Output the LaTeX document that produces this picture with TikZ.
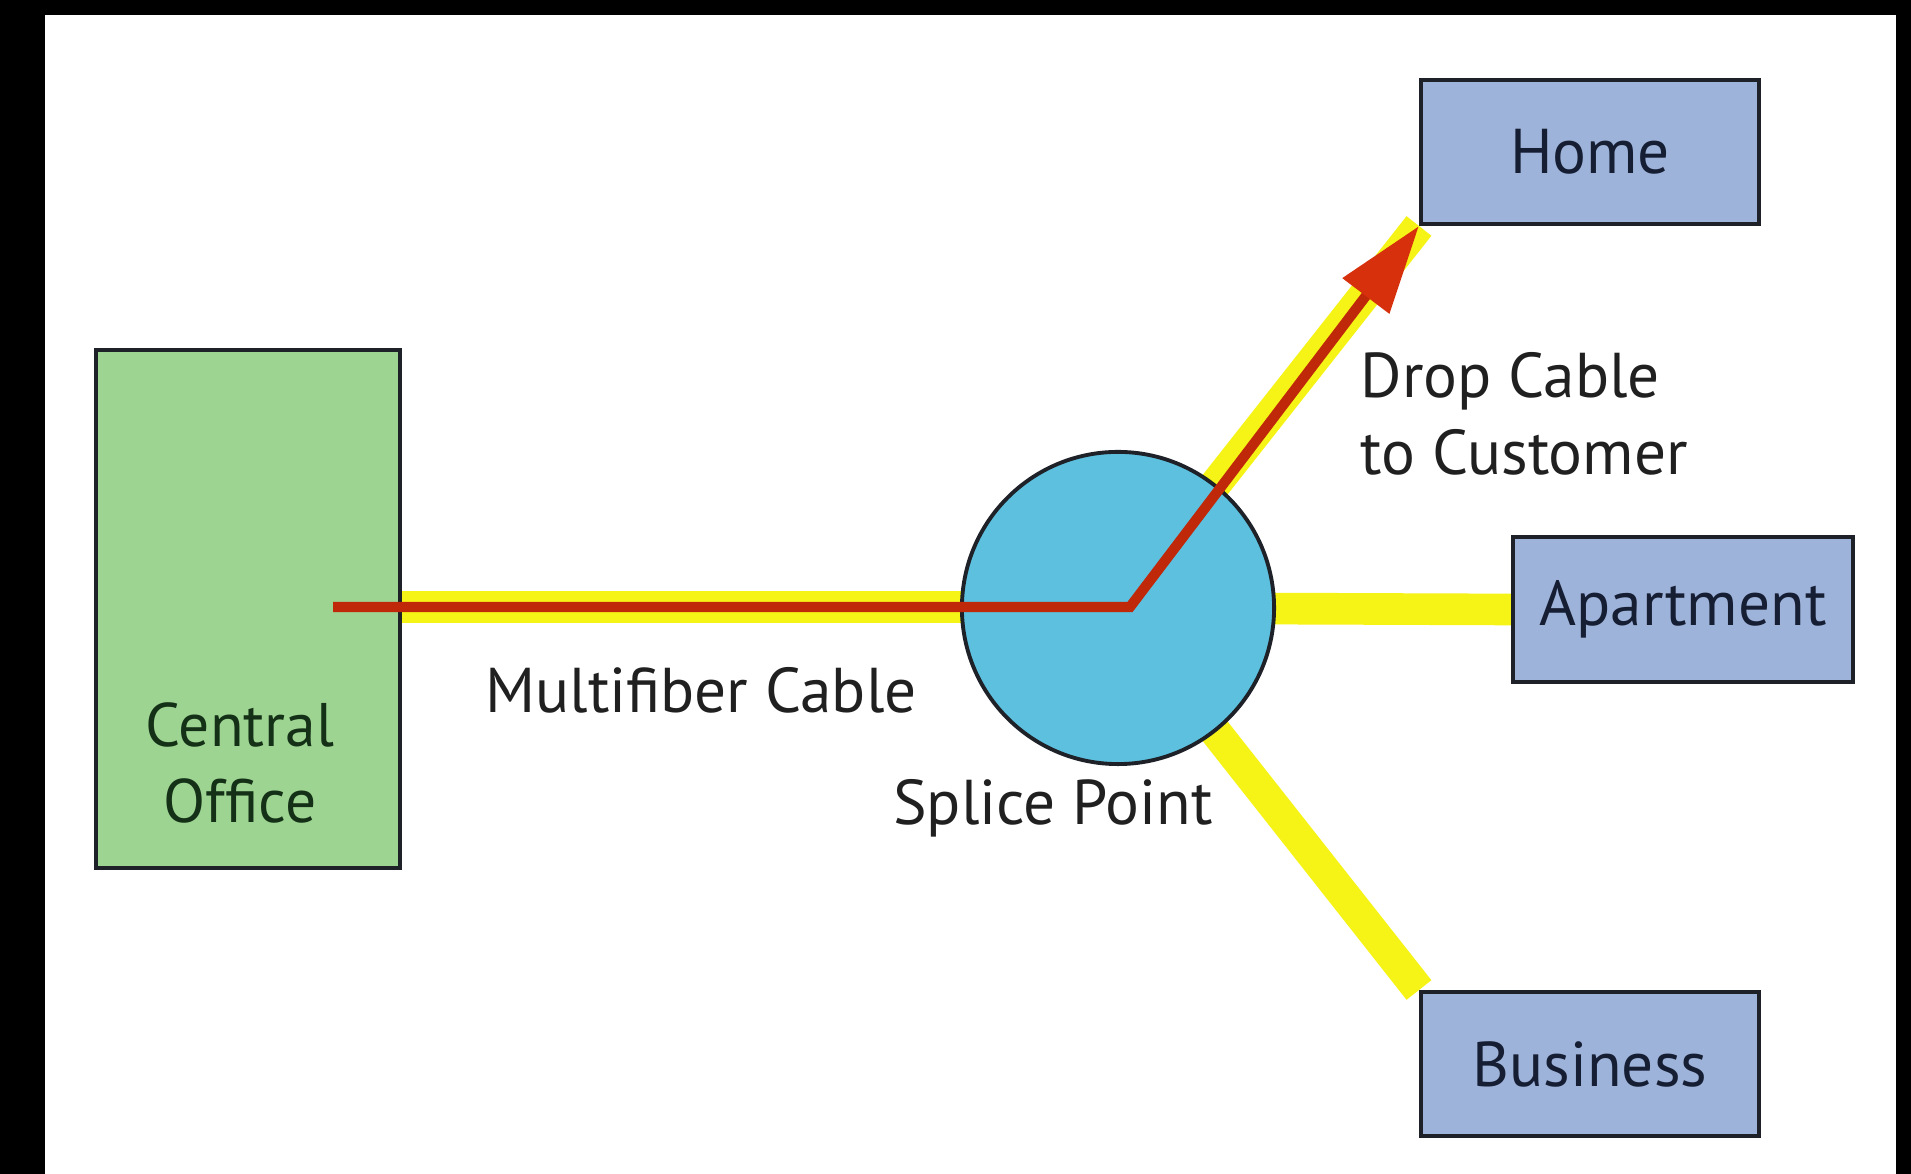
\documentclass[tikz,border=0pt]{standalone}
\usepackage{fontspec}
\setmainfont{PT Sans}
\usetikzlibrary{arrows.meta}
\definecolor{cogreen}{RGB}{157,212,146}
\definecolor{custblue}{RGB}{158,179,217}
\definecolor{splicecyan}{RGB}{92,192,222}
\definecolor{cableyellow}{RGB}{246,244,22}
\definecolor{fibrered}{RGB}{192,40,10}
\definecolor{tipred}{RGB}{214,48,12}
\definecolor{edgedark}{RGB}{30,34,40}
\definecolor{navytext}{RGB}{22,30,52}
\definecolor{greentext}{RGB}{20,48,22}
\definecolor{labeltext}{RGB}{32,32,32}
\pgfdeclarelayer{framelayer}
\pgfdeclarelayer{cablelayer}
\pgfsetlayers{framelayer,cablelayer,main}
\begin{document}
\begin{tikzpicture}[x=0.01cm,y=-0.01cm,
  boxbase/.style={draw=edgedark, line width=1.1pt, rectangle, inner sep=0pt},
  cobox/.style={boxbase, fill=cogreen, minimum width=3.04cm, minimum height=5.18cm},
  custbox/.style={boxbase, fill=custblue, minimum width=3.38cm, minimum height=1.44cm,
     font=\fontsize{18}{21}\selectfont, text=navytext},
  splicenode/.style={circle, draw=edgedark, line width=1.1pt, fill=splicecyan, minimum size=3.12cm, inner sep=0pt},
  labeltxt/.style={font=\fontsize{18}{22}\selectfont, text=labeltext, inner sep=0pt},
  yel/.style={draw=cableyellow, line width=9pt},
  fibre/.style={draw=fibrered, line width=2.9pt, line join=miter}
]
\useasboundingbox (0,0) rectangle (1911,1174);
\begin{pgfonlayer}{framelayer}
\fill[black] (0,0) rectangle (1911,1174);
\fill[white] (45,15) rectangle (1896,1174);
\end{pgfonlayer}

% nodes
\node[cobox] (co) at (248,609) {};
\node[custbox] (home) at (1590,152) {Home};
\node[custbox, minimum width=3.40cm, minimum height=1.45cm] (apt) at (1683,609.5) {Apartment};
\node[custbox] (bus) at (1590,1064) {Business};

\coordinate (costart) at (333,607);
\coordinate (bend) at (1130,607);
\node[splicenode] (sp) at (1118,608) {};

% yellow cables (behind boxes and splice)
\begin{pgfonlayer}{cablelayer}
\draw[yel] (costart -| co.east) -- (bend);
\draw[yel] (sp.center) -- (home.south west);
\draw[yel] (sp.center) -- (apt.west);
\draw[yel] (sp.center) -- (bus.north west);
\end{pgfonlayer}

% red fibre with arrow
\draw[fibre, -{Triangle[length=25pt,width=16pt,color=tipred]}] (costart) -- (bend) -- (home.south west);

% labels
\node[labeltxt, text=greentext, align=center, font=\fontsize{17.5}{21.5}\selectfont] (cotext) at (240,763) {Central\\Office};
\node[labeltxt] (mflabel) at (701,690) {Multifiber Cable};
\node[labeltxt] (splabel) at (1053,808) {Splice Point};
\node[labeltxt, align=left, anchor=west] (droplabel) at (1360,414) {Drop Cable\\to Customer};
\end{tikzpicture}
\end{document}
